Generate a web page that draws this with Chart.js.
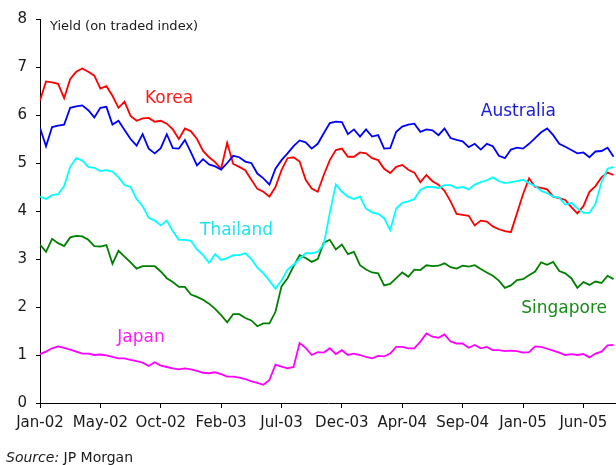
<!DOCTYPE html>
<html>
<head>
<meta charset="utf-8">
<script src="https://cdn.jsdelivr.net/npm/chart.js@4/dist/chart.umd.min.js"></script>
<style>
  html, body { margin: 0; padding: 0; background: #fff; }
  #wrap { width: 616px; height: 465px; }
</style>
</head>
<body>
<div id="wrap"><canvas id="c" width="616" height="465"></canvas></div>
<script>
// Trading-day index of each sample (every 10 trading days from Jan-02)
const STEP = 10;
// Axis tick labels, one every 100 trading days
const tickLabels = ['Jan-02','May-02','Oct-02','Feb-03','Jul-03','Dec-03','Apr-04','Sep-04','Jan-05','Jun-05'];

const korea = [6.3,6.7,6.68,6.65,6.35,6.75,6.9,6.97,6.9,6.82,
  6.55,6.6,6.4,6.15,6.28,5.98,5.88,5.93,5.94,5.86,
  5.88,5.82,5.7,5.5,5.72,5.66,5.5,5.25,5.12,5.02,
  4.88,5.42,4.98,4.92,4.85,4.65,4.46,4.4,4.3,4.5,
  4.85,5.1,5.12,5.03,4.65,4.47,4.4,4.75,5.06,5.27,
  5.3,5.13,5.13,5.22,5.2,5.1,5.06,4.88,4.79,4.92,
  4.96,4.86,4.8,4.6,4.75,4.62,4.55,4.42,4.2,3.94,
  3.92,3.9,3.7,3.8,3.78,3.68,3.62,3.58,3.56,3.95,
  4.35,4.68,4.5,4.48,4.45,4.3,4.27,4.23,4.08,3.95,
  4.1,4.4,4.52,4.7,4.8,4.75];

const australia = [5.73,5.35,5.75,5.78,5.8,6.15,6.18,6.2,6.1,5.95,
  6.15,6.17,5.8,5.88,5.69,5.5,5.36,5.6,5.3,5.2,
  5.31,5.6,5.31,5.3,5.48,5.22,4.95,5.08,4.97,4.93,
  4.86,5.0,5.15,5.12,5.03,5.0,4.78,4.68,4.55,4.88,
  5.06,5.2,5.35,5.47,5.43,5.3,5.4,5.62,5.83,5.86,
  5.85,5.6,5.7,5.55,5.7,5.55,5.58,5.3,5.31,5.65,
  5.76,5.8,5.82,5.65,5.7,5.68,5.58,5.72,5.52,5.48,
  5.45,5.33,5.4,5.28,5.4,5.35,5.15,5.1,5.28,5.32,
  5.3,5.4,5.52,5.64,5.72,5.58,5.4,5.34,5.27,5.2,
  5.22,5.12,5.24,5.25,5.32,5.13];

const thailand = [4.3,4.25,4.33,4.35,4.52,4.92,5.1,5.05,4.92,4.9,
  4.83,4.85,4.82,4.7,4.54,4.5,4.25,4.1,3.86,3.8,
  3.7,3.8,3.58,3.4,3.4,3.38,3.2,3.08,2.92,3.1,
  2.98,3.02,3.08,3.08,3.12,3.0,2.82,2.7,2.55,2.38,
  2.55,2.78,2.88,3.0,3.12,3.12,3.15,3.3,3.96,4.55,
  4.4,4.3,4.25,4.3,4.05,3.97,3.94,3.85,3.6,4.05,
  4.17,4.2,4.25,4.44,4.5,4.5,4.48,4.54,4.54,4.48,
  4.5,4.45,4.55,4.6,4.64,4.7,4.62,4.58,4.6,4.62,
  4.65,4.58,4.52,4.42,4.37,4.3,4.28,4.13,4.17,4.06,
  3.96,3.96,4.15,4.6,4.88,4.92];

const singapore = [3.3,3.15,3.42,3.33,3.27,3.45,3.48,3.47,3.4,3.27,
  3.26,3.29,2.9,3.17,3.05,2.93,2.8,2.85,2.85,2.85,
  2.74,2.6,2.52,2.42,2.42,2.26,2.21,2.15,2.07,1.96,
  1.83,1.68,1.85,1.85,1.77,1.72,1.6,1.66,1.66,1.9,
  2.43,2.6,2.85,3.08,3.02,2.94,3.0,3.34,3.4,3.2,
  3.3,3.1,3.15,2.87,2.78,2.72,2.7,2.45,2.48,2.6,
  2.72,2.63,2.78,2.77,2.87,2.85,2.86,2.91,2.83,2.8,
  2.86,2.84,2.87,2.79,2.72,2.65,2.55,2.4,2.45,2.56,
  2.58,2.66,2.74,2.93,2.88,2.94,2.75,2.7,2.6,2.4,
  2.52,2.46,2.53,2.5,2.65,2.58];

const japan = [1.02,1.07,1.14,1.18,1.15,1.11,1.07,1.03,1.03,1.0,
  1.01,0.99,0.96,0.93,0.93,0.9,0.87,0.84,0.77,0.85,
  0.78,0.75,0.72,0.7,0.72,0.7,0.67,0.63,0.62,0.64,
  0.6,0.55,0.55,0.53,0.5,0.45,0.42,0.38,0.48,0.8,
  0.76,0.72,0.75,1.25,1.15,1.0,1.06,1.05,1.14,1.02,
  1.1,1.0,1.03,1.0,0.96,0.93,0.98,0.97,1.03,1.17,
  1.17,1.14,1.14,1.28,1.45,1.38,1.36,1.43,1.28,1.24,
  1.24,1.15,1.21,1.14,1.17,1.1,1.1,1.08,1.09,1.08,
  1.05,1.06,1.18,1.17,1.13,1.09,1.05,1.0,1.02,1.0,
  1.02,0.95,1.03,1.07,1.2,1.21];

const seriesNames = ['Korea','Australia','Thailand','Singapore','Japan'];
const seriesColors = ['#ff0000','#0000ff','#00ffff','#008000','#ff00ff'];
const seriesValues = [korea, australia, thailand, singapore, japan];
// label anchor: [trading-day index of left edge, yield at text baseline]
const labelX = [174, 730, 265, 797, 128];
const labelY = [6.25, 5.98, 3.5, 1.875, 1.28];
const labelColors = ['#ff1a1a','#1a1ae0','#1ae6f0','#178a17','#ff1aff'];

const toPoints = arr => arr.map((v, i) => ({x: i * STEP, y: v}));

const datasets = seriesValues.map((vals, k) => ({
  label: seriesNames[k],
  data: toPoints(vals),
  borderColor: seriesColors[k],
  backgroundColor: seriesColors[k],
  borderWidth: 1.8,
  pointRadius: 0,
  tension: 0,
  fill: false
}));
// draw order: Australia over Korea
datasets[0].order = 2; datasets[1].order = 1;

const FONT = '"DejaVu Sans", Verdana, sans-serif';

const annotate = {
  id: 'annotate',
  afterDatasetsDraw(chart) {
    const ctx = chart.ctx;
    const xs = chart.scales.x, ys = chart.scales.y;
    ctx.save();
    ctx.textBaseline = 'alphabetic';
    ctx.textAlign = 'left';
    ctx.font = '17px ' + FONT;
    seriesNames.forEach((n, k) => {
      ctx.fillStyle = labelColors[k];
      ctx.fillText(n, xs.getPixelForValue(labelX[k]), ys.getPixelForValue(labelY[k]));
    });
    ctx.fillStyle = '#1a1a1a';
    ctx.font = '13px ' + FONT;
    ctx.fillText('Yield (on traded index)', 50, 30);
    ctx.font = 'italic 14px ' + FONT;
    ctx.fillText('Source:', 6, 462);
    const w = ctx.measureText('Source: ').width;
    ctx.font = '14px ' + FONT;
    ctx.fillText('JP Morgan', 6 + w, 462);
    ctx.restore();
  }
};

new Chart(document.getElementById('c'), {
  type: 'line',
  data: { datasets },
  options: {
    responsive: false,
    animation: false,
    events: [],
    layout: { padding: { top: 19, right: 0, left: 0, bottom: 0 } },
    plugins: { legend: { display: false }, tooltip: { enabled: false } },
    scales: {
      x: {
        type: 'linear',
        min: 0,
        max: 954,
        afterFit(s) { s.height = 62; },
        afterBuildTicks(s) { s.ticks = tickLabels.map((_, i) => ({ value: i * 100 })); },
        ticks: {
          autoSkip: false,
          maxRotation: 0,
          padding: 6,
          color: '#1a1a1a',
          font: { family: FONT, size: 15 },
          callback: v => tickLabels[Math.round(v / 100)]
        },
        grid: { display: true, drawOnChartArea: false, drawTicks: true, tickLength: 5, color: '#000' },
        border: { display: true, color: '#000', width: 1 }
      },
      y: {
        min: 0,
        max: 8,
        afterFit(s) { s.width = 40; },
        ticks: {
          stepSize: 1,
          padding: 9,
          color: '#1a1a1a',
          font: { family: FONT, size: 15 }
        },
        grid: { display: true, drawOnChartArea: false, drawTicks: true, tickLength: 4, color: '#000' },
        border: { display: true, color: '#000', width: 1 }
      }
    }
  },
  plugins: [annotate]
});
</script>
</body>
</html>
